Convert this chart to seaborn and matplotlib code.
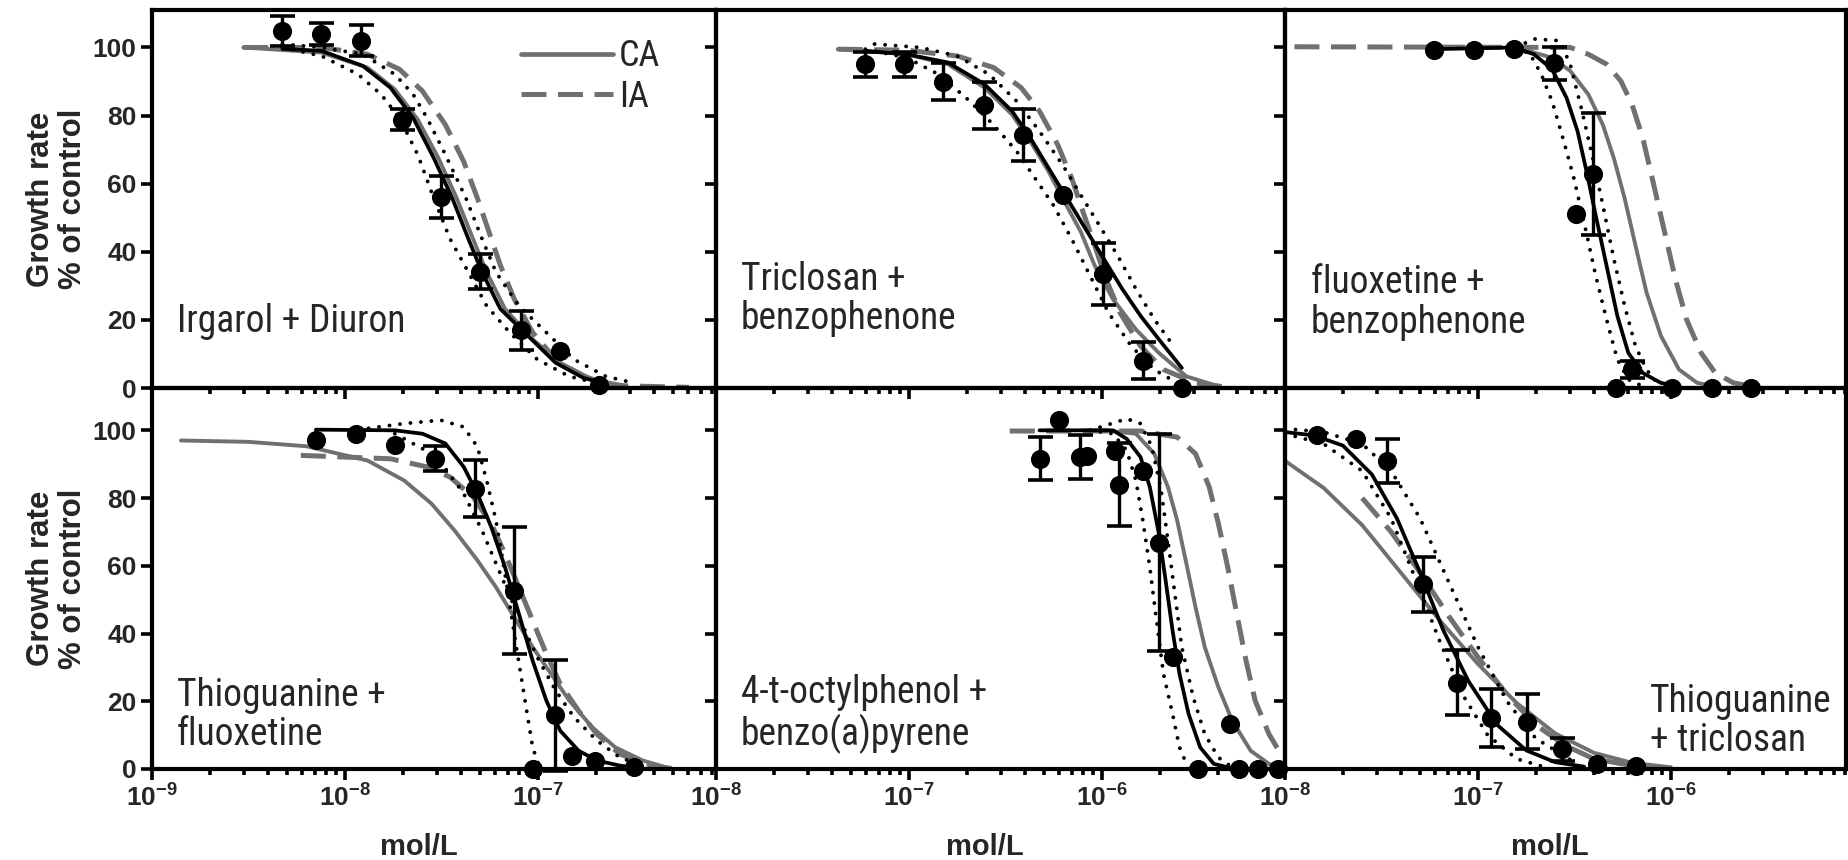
import numpy as np
import matplotlib
matplotlib.use('Agg')
import matplotlib.pyplot as plt
from matplotlib import font_manager
from matplotlib.font_manager import FontProperties
from matplotlib.lines import Line2D
from matplotlib.ticker import LogLocator, NullFormatter, FuncFormatter
import seaborn as sns

# ---- data (log10 of mol/L, growth rate % of control) ----

titles = ['Irgarol + Diuron', 'Triclosan +\nbenzophenone', 'fluoxetine +\nbenzophenone',
          'Thioguanine +\nfluoxetine', '4-t-octylphenol +\nbenzo(a)pyrene', 'Thioguanine\n+ triclosan']

# panel 1: Irgarol + Diuron
p1_pts_logx = [-8.324, -8.122, -7.915, -7.706, -7.504, -7.302, -7.088, -6.885, -6.683]
p1_pts_y = [104.8, 104.0, 102.0, 78.8, 56.2, 34.2, 17.0, 10.8, 1.0]
p1_pts_err = [4.3, 3.3, 4.5, 3.1, 6.2, 5.2, 5.7, 0, 0]
p1_fit_logx = [-8.324, -8.122, -7.908, -7.765, -7.647, -7.540, -7.444, -7.361, -7.290, -7.195, -7.052, -6.909, -6.766, -6.671]
p1_fit_y = [99.6, 99.0, 94.6, 88.2, 79.3, 67.5, 55.7, 43.8, 34.0, 23.2, 15.3, 7.4, 3.0, 1.5]
p1_lo_logx = [-8.324, -8.122, -7.932, -7.813, -7.718, -7.623, -7.540, -7.456, -7.361, -7.266, -7.147, -7.004, -6.838, -6.695]
p1_lo_y = [100.0, 97.5, 92.1, 86.2, 79.3, 68.5, 55.7, 43.8, 34.0, 24.1, 16.3, 8.4, 3.4, 1.5]
p1_hi_logx = [-8.324, -8.122, -7.908, -7.742, -7.647, -7.575, -7.480, -7.373, -7.290, -7.218, -7.099, -6.957, -6.814, -6.648, -6.505]
p1_hi_y = [101.0, 100.0, 98.0, 92.1, 86.2, 79.3, 68.5, 55.7, 43.8, 34.0, 24.1, 16.3, 8.4, 3.4, 1.5]
p1_ca_logx = [-8.527, -8.122, -7.884, -7.742, -7.623, -7.516, -7.421, -7.337, -7.266, -7.171, -7.028, -6.885, -6.719, -6.552]
p1_ca_y = [100.0, 98.5, 94.1, 87.7, 78.8, 67.5, 55.7, 43.8, 34.0, 23.2, 14.3, 7.4, 2.5, 0.7]
p1_ia_logx = [-8.527, -8.122, -7.884, -7.718, -7.599, -7.480, -7.385, -7.314, -7.254, -7.195, -7.123, -7.028, -6.909, -6.766, -6.600, -6.219]
p1_ia_y = [100.0, 100.0, 98.0, 93.6, 87.2, 77.3, 66.5, 55.7, 45.8, 36.0, 26.1, 16.3, 8.4, 3.4, 0.7, 0.2]

# panel 2: Triclosan + benzophenone
p2_pts_logx = [-7.226, -7.024, -6.822, -6.613, -6.406, -6.203, -5.994, -5.787, -5.585]
p2_pts_y = [95.0, 95.0, 90.0, 83.0, 74.3, 56.8, 33.5, 8.0, 0.0]
p2_pts_err = [3.7, 3.7, 5.4, 6.9, 7.6, 0, 9.1, 5.4, 0]
p2_fit_logx = [-7.226, -7.012, -6.798, -6.608, -6.465, -6.370, -6.275, -6.180, -6.085, -5.989, -5.894, -5.799, -5.704, -5.585]
p2_fit_y = [99.0, 98.0, 95.6, 89.2, 81.3, 73.4, 64.5, 55.7, 46.8, 37.9, 29.1, 21.2, 14.3, 5.9]
p2_lo_logx = [-7.226, -7.012, -6.846, -6.703, -6.561, -6.441, -6.346, -6.251, -6.156, -6.061, -5.966, -5.847, -5.728, -5.609]
p2_lo_y = [99.5, 97.0, 92.1, 85.2, 77.3, 69.5, 61.6, 53.7, 43.8, 33.0, 22.2, 12.3, 5.4, 1.5]
p2_hi_logx = [-7.178, -6.941, -6.750, -6.584, -6.441, -6.323, -6.203, -6.108, -6.013, -5.918, -5.823, -5.728, -5.621]
p2_hi_y = [101.0, 100.0, 97.5, 92.1, 84.2, 75.4, 65.5, 56.6, 47.8, 38.9, 29.1, 20.2, 11.8]
p2_ca_logx = [-7.369, -7.012, -6.798, -6.608, -6.465, -6.370, -6.275, -6.203, -6.108, -6.037, -5.942, -5.823, -5.704, -5.561, -5.395]
p2_ca_y = [99.5, 98.0, 95.1, 88.2, 80.3, 72.4, 63.5, 55.7, 45.8, 36.0, 26.1, 17.2, 10.3, 3.4, 0.5]
p2_ia_logx = [-7.369, -7.012, -6.750, -6.561, -6.418, -6.323, -6.228, -6.156, -6.097, -6.037, -5.978, -5.906, -5.799, -5.680, -5.514, -5.347]
p2_ia_y = [99.5, 99.2, 97.5, 94.1, 88.2, 81.3, 71.4, 61.6, 51.7, 41.9, 32.0, 22.2, 12.3, 5.4, 1.5, 0.2]

# panel 3: fluoxetine + benzophenone
p3_pts_logx = [-7.227, -7.020, -6.813, -6.606, -6.404, -6.494, -6.202, -6.287, -5.996, -5.789, -5.586]
p3_pts_y = [99.3, 99.3, 99.5, 95.3, 62.8, 51.0, 5.5, 0.0, 0.0, 0.0, 0.0]
p3_pts_err = [0, 0, 0, 4.9, 18.0, 0, 2.5, 0, 0, 0, 0]
p3_fit_logx = [-7.227, -6.813, -6.710, -6.616, -6.541, -6.484, -6.437, -6.390, -6.334, -6.278, -6.221, -6.146, -6.052, -5.958]
p3_fit_y = [99.5, 100.0, 98.0, 93.6, 85.2, 75.4, 63.5, 50.7, 36.0, 21.2, 10.3, 4.4, 1.5, 0.5]
p3_lo_logx = [-6.804, -6.729, -6.672, -6.616, -6.560, -6.503, -6.447, -6.390, -6.334, -6.278, -6.221, -6.146]
p3_lo_y = [100.0, 98.0, 92.1, 84.2, 73.4, 61.6, 47.8, 33.0, 20.2, 8.4, 2.5, 0.5]
p3_hi_logx = [-6.804, -6.710, -6.578, -6.522, -6.465, -6.409, -6.353, -6.296, -6.240, -6.184, -6.127, -6.071]
p3_hi_y = [100.0, 102.5, 102.0, 95.1, 82.3, 68.5, 53.7, 37.9, 24.1, 12.3, 5.4, 1.5]
p3_ca_logx = [-6.804, -6.616, -6.522, -6.428, -6.353, -6.296, -6.240, -6.184, -6.127, -6.052, -5.958, -5.864, -5.770]
p3_ca_y = [100.0, 97.0, 93.1, 86.2, 77.3, 67.5, 55.7, 41.9, 28.1, 15.3, 5.4, 1.5, 0.5]
p3_ia_logx = [-7.951, -6.522, -6.428, -6.334, -6.259, -6.202, -6.146, -6.089, -6.033, -5.977, -5.920, -5.844, -5.770, -5.676, -5.582]
p3_ia_y = [100.2, 100.0, 98.0, 95.1, 90.1, 83.3, 73.4, 59.6, 45.8, 32.0, 20.2, 10.3, 4.4, 1.5, 0.5]

# panel 4: Thioguanine + fluoxetine
p4_pts_logx = [-8.151, -7.944, -7.742, -7.532, -7.325, -7.123, -6.914, -6.826, -7.028, -6.707, -6.505]
p4_pts_y = [97.2, 99.0, 95.6, 91.6, 82.8, 52.7, 15.8, 3.9, 0.0, 2.5, 0.5]
p4_pts_err = [0, 0, 0, 3.7, 8.4, 18.7, 16.3, 0, 0, 0, 0]
p4_fit_logx = [-8.151, -7.742, -7.599, -7.480, -7.385, -7.314, -7.242, -7.171, -7.099, -7.028, -6.957, -6.885, -6.790, -6.695, -6.576, -6.505]
p4_fit_y = [100.2, 100.0, 99.0, 96.1, 89.2, 81.3, 71.4, 59.6, 45.8, 32.0, 20.2, 11.3, 5.4, 2.5, 1.0, 0.5]
p4_lo_logx = [-7.932, -7.694, -7.504, -7.385, -7.314, -7.266, -7.218, -7.171, -7.123, -7.076, -7.028, -6.992]
p4_lo_y = [100.2, 102.0, 103.0, 101.0, 95.1, 85.2, 73.4, 57.6, 39.9, 23.2, 6.4, 0.5]
p4_hi_logx = [-7.742, -7.599, -7.480, -7.385, -7.290, -7.195, -7.099, -7.004, -6.909, -6.814, -6.695, -6.576, -6.457]
p4_hi_y = [99.0, 94.6, 88.7, 81.3, 70.4, 57.6, 44.8, 33.0, 23.2, 15.3, 8.4, 3.4, 1.0]
p4_ca_logx = [-8.85, -8.50, -8.20, -7.884, -7.694, -7.551, -7.432, -7.314, -7.218, -7.123, -7.028, -6.933, -6.838, -6.719, -6.600, -6.457, -6.338]
p4_ca_y = [97.0, 96.6, 95.3, 91.1, 85.2, 78.3, 70.4, 61.6, 53.7, 44.8, 36.0, 28.1, 20.2, 12.3, 6.4, 2.5, 0.5]
p4_ia_logx = [-8.229, -7.765, -7.575, -7.456, -7.337, -7.242, -7.171, -7.099, -7.028, -6.957, -6.885, -6.790, -6.695, -6.576, -6.410, -6.291]
p4_ia_y = [92.6, 91.6, 89.2, 86.2, 80.3, 72.4, 63.5, 53.7, 43.8, 34.0, 25.1, 17.2, 10.3, 4.4, 1.0, 0.0]

# panel 5: 4-t-octylphenol + benzo(a)pyrene
p5_pts_logx = [-6.318, -6.222, -6.113, -6.075, -5.930, -5.911, -5.787, -5.704, -5.633, -5.502, -5.336, -5.287, -5.192, -5.085]
p5_pts_y = [91.6, 103.0, 92.1, 92.5, 93.9, 84.0, 88.0, 66.8, 33.0, 0.0, 13.3, 0.0, 0.0, 0.0]
p5_pts_err = [6.3, 0, 6.4, 0, 0, 12.3, 0, 32.0, 0, 0, 0, 0, 0, 0]
p5_fit_logx = [-6.323, -5.942, -5.871, -5.799, -5.751, -5.704, -5.669, -5.633, -5.597, -5.550, -5.490, -5.419, -5.324]
p5_fit_y = [100.0, 100.0, 97.5, 92.1, 83.3, 69.5, 55.7, 40.9, 28.1, 16.3, 6.4, 1.5, 0.2]
p5_lo_logx = [-6.061, -5.942, -5.871, -5.823, -5.787, -5.751, -5.716, -5.680, -5.633, -5.597, -5.561]
p5_lo_y = [100.0, 99.0, 94.1, 85.2, 73.4, 59.6, 43.8, 28.1, 16.3, 6.4, 1.5]
p5_hi_logx = [-6.061, -5.871, -5.799, -5.740, -5.692, -5.657, -5.621, -5.585, -5.526, -5.466, -5.395, -5.324]
p5_hi_y = [100.0, 103.4, 102.0, 95.1, 82.3, 67.5, 51.7, 36.0, 21.2, 10.3, 3.4, 0.5]
p5_ca_logx = [-5.989, -5.823, -5.728, -5.657, -5.609, -5.561, -5.514, -5.466, -5.395, -5.324, -5.228, -5.133, -5.061]
p5_ca_y = [100.0, 99.0, 93.1, 83.3, 73.4, 60.6, 47.8, 36.0, 24.1, 14.3, 5.4, 1.5, 0.5]
p5_ia_logx = [-6.477, -5.799, -5.609, -5.514, -5.443, -5.395, -5.347, -5.300, -5.252, -5.205, -5.133, -5.061]
p5_ia_y = [99.8, 99.8, 98.0, 93.1, 83.3, 72.4, 59.6, 45.8, 32.0, 20.2, 10.3, 3.4]

# panel 6: Thioguanine + triclosan
p6_pts_logx = [-7.835, -7.633, -7.469, -7.285, -7.108, -6.931, -6.748, -6.564, -6.381, -6.180]
p6_pts_y = [98.5, 97.5, 91.0, 54.5, 25.5, 15.0, 14.0, 5.8, 1.5, 1.0]
p6_pts_err = [0, 0, 6.5, 8.0, 9.5, 8.5, 8.0, 3.5, 0, 0]
p6_fit_logx = [-8.0, -7.85, -7.7, -7.55, -7.42, -7.3, -7.18, -7.05, -6.9, -6.75, -6.6, -6.45]
p6_fit_y = [99.5, 98.5, 95.5, 87.0, 74.0, 58.0, 41.0, 26.0, 13.0, 5.5, 2.0, 0.7]
p6_lo_logx = [-8.0, -7.8, -7.6, -7.45, -7.33, -7.2, -7.08, -6.95, -6.8, -6.65]
p6_lo_y = [99.0, 96.0, 88.0, 74.0, 57.0, 38.0, 22.0, 10.0, 3.0, 0.5]
p6_hi_logx = [-8.0, -7.8, -7.6, -7.45, -7.3, -7.15, -7.0, -6.85, -6.7, -6.5]
p6_hi_y = [100.5, 99.5, 96.0, 88.0, 74.0, 55.0, 36.0, 20.0, 9.0, 2.0]
p6_ca_logx = [-8.0, -7.8, -7.6, -7.4, -7.2, -7.0, -6.8, -6.6, -6.4, -6.2, -6.0]
p6_ca_y = [91.0, 83.0, 72.0, 58.0, 44.0, 31.0, 19.5, 10.5, 4.8, 1.8, 0.5]
p6_ia_logx = [-7.6, -7.45, -7.3, -7.15, -7.0, -6.85, -6.7, -6.55, -6.4, -6.2, -6.0]
p6_ia_y = [80.0, 70.0, 58.0, 45.0, 33.0, 22.0, 13.0, 7.0, 3.0, 1.0, 0.3]

# x-axis ranges of the three columns (log10 mol/L)
col_xlim = [(-9.0, -6.078), (-8.0, -5.05), (-8.0, -5.093)]
y_ticks = [0, 20, 40, 60, 80, 100]

panels = [
    (p1_pts_logx, p1_pts_y, p1_pts_err, p1_fit_logx, p1_fit_y, p1_lo_logx, p1_lo_y, p1_hi_logx, p1_hi_y, p1_ca_logx, p1_ca_y, p1_ia_logx, p1_ia_y),
    (p2_pts_logx, p2_pts_y, p2_pts_err, p2_fit_logx, p2_fit_y, p2_lo_logx, p2_lo_y, p2_hi_logx, p2_hi_y, p2_ca_logx, p2_ca_y, p2_ia_logx, p2_ia_y),
    (p3_pts_logx, p3_pts_y, p3_pts_err, p3_fit_logx, p3_fit_y, p3_lo_logx, p3_lo_y, p3_hi_logx, p3_hi_y, p3_ca_logx, p3_ca_y, p3_ia_logx, p3_ia_y),
    (p4_pts_logx, p4_pts_y, p4_pts_err, p4_fit_logx, p4_fit_y, p4_lo_logx, p4_lo_y, p4_hi_logx, p4_hi_y, p4_ca_logx, p4_ca_y, p4_ia_logx, p4_ia_y),
    (p5_pts_logx, p5_pts_y, p5_pts_err, p5_fit_logx, p5_fit_y, p5_lo_logx, p5_lo_y, p5_hi_logx, p5_hi_y, p5_ca_logx, p5_ca_y, p5_ia_logx, p5_ia_y),
    (p6_pts_logx, p6_pts_y, p6_pts_err, p6_fit_logx, p6_fit_y, p6_lo_logx, p6_lo_y, p6_hi_logx, p6_hi_y, p6_ca_logx, p6_ca_y, p6_ia_logx, p6_ia_y),
]


def pick_narrow():
    # look for a condensed sans face; fall back to Liberation Sans
    for fam in ['Liberation Sans Narrow', 'Arial Narrow', 'Roboto Condensed', 'Open Sans Condensed']:
        try:
            font_manager.findfont(FontProperties(family=fam), fallback_to_default=False)
            return fam, 'normal', True
        except Exception:
            pass
    for fam in ['Roboto', 'Open Sans', 'Noto Sans']:
        try:
            path = font_manager.findfont(FontProperties(family=fam, stretch='condensed'),
                                         fallback_to_default=False)
            if 'ondensed' in path or 'Narrow' in path:
                return fam, 'condensed', True
        except Exception:
            pass
    return 'Liberation Sans', 'normal', False


sns.set_style('white')
plt.rcParams['font.family'] = ['Liberation Sans', 'DejaVu Sans']
plt.rcParams['mathtext.fontset'] = 'custom'
plt.rcParams['mathtext.bf'] = 'Liberation Sans:bold'
plt.rcParams['mathtext.rm'] = 'Liberation Sans:bold'
plt.rcParams['mathtext.default'] = 'bf'

narrow, narrow_stretch, is_narrow = pick_narrow()
label_size = 27 if is_narrow else 23
legend_size = 26 if is_narrow else 22

GRAY = '#707070'
IA_DASH = (0, (5.0, 2.3))
W, H = 1849, 860
fig = plt.figure(figsize=(W / 100, H / 100), dpi=100)

col_px = [(152, 716), (716, 1285), (1285, 1846)]
row_px = [(10, 388), (388, 769)]
row_ymax = [111.0, 112.5]


def sci(v, pos):
    e = int(round(np.log10(v)))
    return r'$10^{%d}$' % e


axes = []
for i, data in enumerate(panels):
    r, c = divmod(i, 3)
    (pts_lx, pts_y, pts_err, fit_lx, fit_y, lo_lx, lo_y, hi_lx, hi_y,
     ca_lx, ca_y, ia_lx, ia_y) = data
    x0, x1 = col_px[c]
    y0, y1 = row_px[r]
    ax = fig.add_axes([x0 / W, 1 - y1 / H, (x1 - x0) / W, (y1 - y0) / H])
    ax.set_facecolor('none')
    ax.set_xscale('log')

    to_x = lambda lx: 10 ** np.asarray(lx, dtype=float)

    # additivity predictions
    sns.lineplot(x=to_x(ia_lx), y=ia_y, ax=ax, color=GRAY, linewidth=3.6,
                 linestyle=IA_DASH, sort=False, estimator=None, zorder=2)
    sns.lineplot(x=to_x(ca_lx), y=ca_y, ax=ax, color=GRAY, linewidth=2.8,
                 sort=False, estimator=None, zorder=2)
    # fitted curve and its confidence band
    sns.lineplot(x=to_x(fit_lx), y=fit_y, ax=ax, color='black', linewidth=2.7,
                 sort=False, estimator=None, zorder=3)
    for lx, ly in ((lo_lx, lo_y), (hi_lx, hi_y)):
        sns.lineplot(x=to_x(lx), y=ly, ax=ax, color='black', linewidth=2.8,
                     linestyle=(0, (0.01, 2.7)), dash_capstyle='round',
                     sort=False, estimator=None, zorder=3)

    # observations
    ex = [v for v, e in zip(pts_lx, pts_err) if e > 0]
    ey = [v for v, e in zip(pts_y, pts_err) if e > 0]
    ee = [e for e in pts_err if e > 0]
    if ee:
        ax.errorbar(to_x(ex), ey, yerr=ee, fmt='none', ecolor='black',
                    elinewidth=2.4, capsize=9, capthick=2.6, zorder=4, clip_on=False)
    sns.scatterplot(x=to_x(pts_lx), y=pts_y, ax=ax, color='black', s=190,
                    edgecolor='black', linewidth=0, zorder=5, clip_on=False)

    ax.set_xlim(10 ** col_xlim[c][0], 10 ** col_xlim[c][1])
    ax.set_ylim(0, row_ymax[r])
    ax.set_yticks(y_ticks)
    ax.xaxis.set_major_locator(LogLocator(base=10, numticks=12))
    ax.xaxis.set_minor_locator(LogLocator(base=10, subs=np.arange(2, 10), numticks=12))
    ax.xaxis.set_minor_formatter(NullFormatter())
    if r == 1:
        ax.xaxis.set_major_formatter(FuncFormatter(sci))
        ax.set_xlabel('mol/L', fontsize=21, fontweight='bold')
        ax.xaxis.set_label_coords(0.473, -0.168)
    else:
        ax.xaxis.set_major_formatter(NullFormatter())
    if c != 0:
        ax.set_yticklabels([])

    ax.tick_params(axis='both', which='major', direction='out', length=8, width=2.6,
                   labelsize=19, pad=3, color='black')
    ax.tick_params(axis='x', which='minor', direction='out', length=4.5, width=2.6, color='black')
    ax.tick_params(axis='y', which='both', left=True, right=False)
    ax.tick_params(axis='x', which='both', bottom=True, top=False)
    for lab in ax.get_yticklabels():
        lab.set_fontweight('bold')
    for s in ax.spines.values():
        s.set_visible(True)
        s.set_linewidth(3.0)
        s.set_color('black')
    axes.append(ax)

# panel annotations
label_pos = [(0.044, 0.128, 'left'), (0.044, 0.135, 'left'), (0.046, 0.125, 'left'),
             (0.044, 0.042, 'left'), (0.044, 0.040, 'left'), (0.975, 0.026, 'right')]
for ax, text, (tx, ty, ha) in zip(axes, titles, label_pos):
    ax.text(tx, ty, text, transform=ax.transAxes, fontsize=label_size,
            family=[narrow, 'DejaVu Sans'], fontstretch=narrow_stretch,
            ha=ha, va='bottom', multialignment='left', linespacing=1.08, zorder=6)

# legend in first panel
handles = [Line2D([], [], color=GRAY, linewidth=3.4),
           Line2D([], [], color=GRAY, linewidth=3.6, linestyle=IA_DASH)]
axes[0].legend(handles, ['CA', 'IA'], loc='upper left', bbox_to_anchor=(0.655, 0.925),
               frameon=False, handlelength=92 / (legend_size * 100 / 72),
               borderaxespad=0, borderpad=0, labelspacing=0.12, handletextpad=0.15,
               prop=FontProperties(family=[narrow, 'DejaVu Sans'], stretch=narrow_stretch,
                                   size=legend_size))

# shared y label for both rows
for (y0, y1) in row_px:
    fig.text(57 / W, 1 - (y0 + y1) / 2 / H, 'Growth rate\n% of control', rotation=90,
             ha='center', va='center', fontsize=22.5, fontweight='bold',
             multialignment='center', linespacing=1.1)

fig.savefig('out.png', dpi=100)
